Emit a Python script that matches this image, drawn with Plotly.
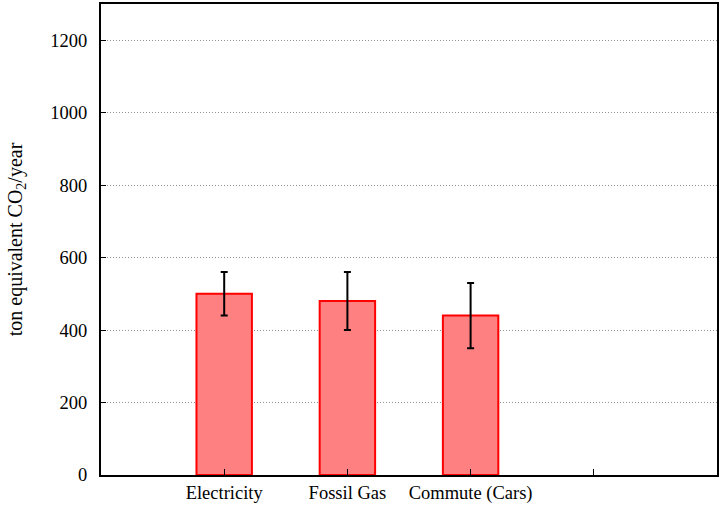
import plotly.graph_objects as go

categories = ["Electricity", "Fossil Gas", "Commute (Cars)", " "]
values = [500, 480, 440]
err_plus = [60, 80, 90]
err_minus = [60, 80, 90]
y_ticks = [0, 200, 400, 600, 800, 1000, 1200]

FONT = "Liberation Serif, Times New Roman, serif"

fig = go.Figure()
fig.add_trace(go.Bar(
    x=categories[:len(values)],
    y=values,
    width=0.45,
    marker=dict(color="#FF8080", line=dict(color="#FF0000", width=2)),
    error_y=dict(type="data", symmetric=False, array=err_plus, arrayminus=err_minus,
                 color="black", thickness=2, width=3.5),
    showlegend=False,
))

fig.update_layout(
    width=721, height=506,
    margin=dict(l=101, r=3, t=2, b=31),
    plot_bgcolor="white", paper_bgcolor="white",
    font=dict(family=FONT, size=18, color="black"),
    xaxis=dict(
        type="category", categoryorder="array", categoryarray=categories,
        range=[-1, 4], showgrid=False,
        showline=True, linecolor="black", linewidth=2, mirror=True,
        ticks="inside", ticklen=6, tickcolor="black", tickwidth=1,
        tickfont=dict(family=FONT, size=18.5),
    ),
    yaxis=dict(
        range=[0, 1300], tickvals=y_ticks,
        showgrid=True, gridcolor="#909090", griddash="1px,2px", gridwidth=1,
        zeroline=False,
        showline=True, linecolor="black", linewidth=2, mirror=True,
        ticks="inside", ticklen=5, tickcolor="black", tickwidth=1,
        ticklabelstandoff=8,
        tickfont=dict(family=FONT, size=18.5),
        title=dict(text="ton equivalent CO<sub>2</sub>/year", font=dict(family=FONT, size=20), standoff=22),
    ),
)

fig.write_html("out.html", config={"displayModeBar": False},
               post_script="document.body.style.margin='0';")
